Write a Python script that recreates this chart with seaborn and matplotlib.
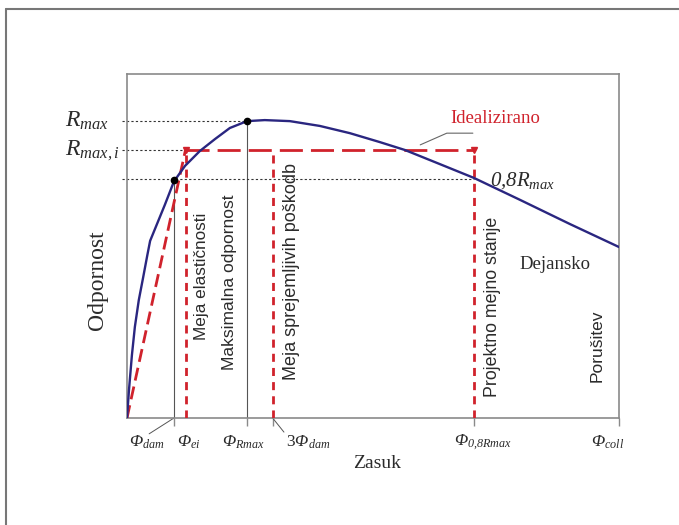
import matplotlib.pyplot as plt
import seaborn as sns
import pandas as pd

# rotation values (arbitrary units) and resistance (arbitrary units)
curve_x = [0, 0.4, 1.0, 1.6, 2.4, 3.3, 4.1, 4.7, 5.7, 7.7, 9.55, 11.8, 14.8, 17.9,
           20.9, 24.4, 28.0, 33.1, 39.2, 45.3, 51.4, 56.5, 63.6, 70.5, 79.9, 90.0, 100]
curve_y = [0, 8.1, 18.3, 26.5, 34.3, 41.0, 47.1, 51.5, 55.0, 62.0, 68.8, 73.3, 77.6, 81.1,
           84.3, 86.3, 86.6, 86.3, 84.9, 82.8, 80.2, 77.9, 73.8, 69.8, 63.4, 56.4, 49.7]

phi_dam = 9.55
phi_ei = 11.9
phi_rmax = 24.4
phi_3dam = 29.6
phi_08 = 70.5
phi_coll = 100

r_max = 86.3
r_max_i = 78.0
r_08 = 69.6

tick_pos = [phi_dam, phi_rmax, phi_3dam, phi_08, phi_coll]
tick_labels = [r'$\mathit{\Phi}_{dam}$', r'$\mathit{\Phi}_{ei}$', r'$\mathit{\Phi}_{Rmax}$',
               r'3$\mathit{\Phi}_{dam}$', r'$\mathit{\Phi}_{0{,}8Rmax}$', r'$\mathit{\Phi}_{coll}$']
tick_label_x = [4.1, 12.6, 23.6, 36.8, 72.4, 97.6]

sns.set_style("white")
plt.rcParams['font.family'] = ['Liberation Serif', 'DejaVu Serif']
plt.rcParams['mathtext.fontset'] = 'custom'
plt.rcParams['mathtext.it'] = 'Liberation Serif:italic'
plt.rcParams['mathtext.rm'] = 'Liberation Serif:italic'
plt.rcParams['mathtext.cal'] = 'Liberation Serif:italic'

BLUE = '#2a2680'
RED = '#d0222c'
GREY = '#8a8a8a'
TXT = '#2b2b2b'

fig = plt.figure(figsize=(6.79, 5.25), dpi=100)
ax = fig.add_axes([127 / 679, 107 / 525, 492 / 679, 344 / 525])

df = pd.DataFrame({'Zasuk': curve_x, 'Odpornost': curve_y})
sns.lineplot(data=df, x='Zasuk', y='Odpornost', sort=False, color=BLUE, lw=1.7, ax=ax, zorder=4)

# idealised bilinear curve
ideal = pd.DataFrame({'x': [0, phi_ei], 'y': [0, r_max_i]})
sns.lineplot(data=ideal, x='x', y='y', sort=False, color=RED, lw=2, ax=ax,
             linestyle=(0, (4.7, 2.2)), zorder=3)
ax.plot([phi_ei, phi_08], [r_max_i, r_max_i], color=RED, lw=2, linestyle=(0, (8.3, 2.9)), zorder=3)
for xv in [phi_ei, phi_3dam, phi_08]:
    ax.plot([xv, xv], [0, r_max_i], color=RED, lw=2, linestyle=(0, (2.9, 2.2)), zorder=3)
ax.plot([phi_ei, phi_08], [r_max_i, r_max_i], ls='none', marker='v', ms=4.5, color=RED, zorder=5)

# thin reference lines
ax.plot([phi_dam, phi_dam], [0, r_08 - 0.5], color='#555555', lw=0.8, zorder=2)
ax.plot([phi_rmax, phi_rmax], [0, r_max], color='#555555', lw=0.8, zorder=2)
dot = dict(color='#333333', lw=0.8, linestyle=(0, (2, 2)), clip_on=False, zorder=2)
ax.plot([-1, phi_rmax], [r_max, r_max], **dot)
ax.plot([-1, phi_ei - 0.5], [r_max_i, r_max_i], **dot)
ax.plot([-1, phi_08], [r_08, r_08], **dot)
ax.plot([phi_dam, phi_rmax], [r_08 - 0.5, r_max], ls='none', marker='o', ms=4.5, color='black', zorder=6)

ax.set_xlim(0, 100)
ax.set_ylim(0, 100)
ax.set_xticks(tick_pos)
ax.set_xticklabels([])
ax.set_yticks([])
ax.tick_params(axis='x', direction='out', length=6, width=1, color=GREY, bottom=True)
for s in ax.spines.values():
    s.set_color(GREY)
    s.set_linewidth(1.2)
ax.set_xlabel('')
ax.set_ylabel('')

# x tick labels and leader lines
for xl, lab in zip(tick_label_x, tick_labels):
    ax.text(xl, -7, lab, fontsize=12.5, ha='center', va='center', color=TXT, clip_on=False)
ax.plot([4.5, phi_dam], [-4.6, 0], color='#555555', lw=0.7, clip_on=False)
ax.plot([phi_3dam, 31.9], [0, -4.1], color='#555555', lw=0.7, clip_on=False)

# y labels
ax.text(-12.6, 86.5, r'$R_{max}$', fontsize=17, ha='left', va='center', color=TXT, clip_on=False)
ax.text(-12.6, 77.6, r'$R_{max,i}$', fontsize=17, ha='left', va='center', color=TXT, clip_on=False)
ax.text(73.8, 69.0, r'$0{,}8R_{max}$', fontsize=15, ha='left', va='center', color=TXT)

ax.text(74.8, 87.0, 'Idealizirano', fontsize=13.5, color=RED, ha='center', va='center')
ax.plot([59.6, 65.0, 70.3], [79.4, 82.8, 82.8], color='#666666', lw=0.8)
ax.text(87, 44.5, 'Dejansko', fontsize=13.5, color=TXT, ha='center', va='center')

sans = ['Liberation Sans', 'DejaVu Sans']
ax.text(15.2, 41.3, 'Meja elastičnosti', rotation=90, fontsize=12.3, family=sans,
        ha='center', va='center', color=TXT)
ax.text(20.9, 39.5, 'Maksimalna odpornost', rotation=90, fontsize=12.5, family=sans,
        ha='center', va='center', color=TXT)
ax.text(33.5, 42.6, 'Meja sprejemljivih poškodb', rotation=90, fontsize=13, family=sans,
        ha='center', va='center', color=TXT)
ax.text(74.2, 32.3, 'Projektno mejno stanje', rotation=90, fontsize=12.8, family=sans,
        ha='center', va='center', color=TXT)
ax.text(95.5, 20.9, 'Porušitev', rotation=90, fontsize=12.5, family=sans,
        ha='center', va='center', color=TXT)

fig.text(377 / 679, 1 - 463 / 525, 'Zasuk', fontsize=14, ha='center', va='center', color=TXT)
fig.text(98 / 679, 1 - 280 / 525, 'Odpornost', fontsize=17, rotation=90,
         ha='center', va='center', color=TXT)

# outer frame
fig.add_artist(plt.Line2D([6 / 679, 6 / 679], [0, 1 - 9 / 525], color='#777777', lw=1.5,
                          transform=fig.transFigure))
fig.add_artist(plt.Line2D([6 / 679, 1], [1 - 9 / 525, 1 - 9 / 525], color='#777777', lw=1.5,
                          transform=fig.transFigure))

fig.savefig('out.png', dpi=100)
